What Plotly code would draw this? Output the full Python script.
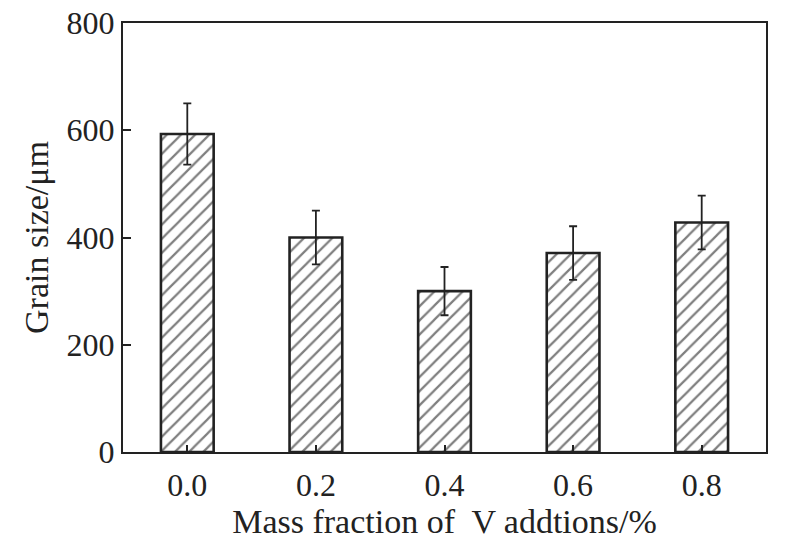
"""
grain_size_bar.py

Bar chart of grain size against the mass fraction of V additions,
with error bars and hatched bars.
"""

import plotly.graph_objects as go

# Data
V_FRACTIONS = ['0.0', '0.2', '0.4', '0.6', '0.8']
GRAIN_SIZE = [593, 400, 300, 371, 428]
GRAIN_ERR = [57, 50, 45, 50, 50]
Y_TICKS = [0, 200, 400, 600, 800]

INK = '#222222'
FONT = 'Liberation Serif'

# drop the browser's default 8px body margin so the figure fills the window
NO_BODY_MARGIN = "document.body.style.margin = '0';"


def build_figure():
    fig = go.Figure()
    fig.add_trace(go.Bar(
        x=V_FRACTIONS,
        y=GRAIN_SIZE,
        width=0.41,
        marker=dict(
            color='white',
            line=dict(color=INK, width=2.6),
            pattern=dict(shape='/', fgcolor='#000000', bgcolor='white',
                         size=10, solidity=0.22),
        ),
        error_y=dict(type='data', array=GRAIN_ERR, visible=True,
                     color=INK, thickness=1.8, width=4),
    ))

    fig.update_layout(
        width=785, height=540,
        margin=dict(l=123, r=19, t=23, b=88),
        paper_bgcolor='white', plot_bgcolor='white',
        showlegend=False,
        font=dict(family=FONT, color=INK, size=30),
    )
    fig.update_xaxes(
        type='category',
        range=[-0.5, 4.5],
        automargin=False,
        showline=True, linecolor=INK, linewidth=2, mirror=True,
        ticks='inside', ticklen=7, tickwidth=1.5, tickcolor=INK,
        tickfont=dict(size=32),
        ticklabelstandoff=4,
        title=dict(text='Mass fraction of  V addtions/%',
                   font=dict(size=34), standoff=4),
        showgrid=False, zeroline=False,
    )
    fig.update_yaxes(
        range=[0, 800],
        tickvals=Y_TICKS,
        automargin=False,
        showline=True, linecolor=INK, linewidth=2, mirror=True,
        ticks='inside', ticklen=8, tickwidth=1.5, tickcolor=INK,
        tickfont=dict(size=32),
        ticklabeloverflow='allow',
        title=dict(text='Grain size/μm', font=dict(size=34), standoff=8),
        showgrid=False, zeroline=False,
    )
    return fig


def main():
    fig = build_figure()
    fig.write_html('out.html', post_script=NO_BODY_MARGIN,
                   config={'displayModeBar': False})


if __name__ == '__main__':
    main()
